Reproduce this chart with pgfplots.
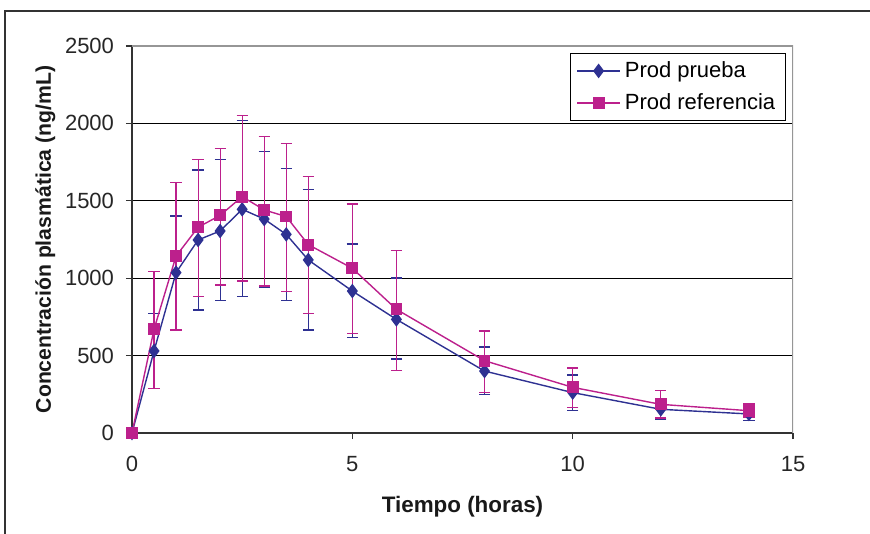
\documentclass[border=0pt]{standalone}
\usepackage{pgfplots}
\pgfplotsset{compat=1.18}
\usepackage{pgfplotstable}
\usepackage{fontspec}
\setmainfont{Liberation Sans}
\definecolor{prueba}{RGB}{46,49,146}
\definecolor{refer}{RGB}{188,32,140}
\definecolor{frameg}{RGB}{150,150,150}
\pgfplotstableread{
t y ep em
0 0 0 0
0.5 530 243 243
1 1036 366 371
1.5 1247 452 452
2 1305 463 450
2.5 1445 573 565
3 1382 438 441
3.5 1283 427 428
4 1118 456 453
5 917 304 301
6 734 267 256
8 400 156 150
10 261 114 114
12 153 69 65
14 123 37 43
}\prueba
\pgfplotstableread{
t y ep em
0 0 0 0
0.5 670 372 381
1 1143 474 478
1.5 1329 439 449
2 1406 431 450
2.5 1527 523 545
3 1441 473 491
3.5 1398 473 485
4 1217 440 447
5 1064 415 422
6 799 381 396
8 467 192 204
10 295 125 131
12 185 88 88
14 144 43 44
}\referencia
\begin{document}
\begin{tikzpicture}
\path[use as bounding box] (0,0) rectangle (435bp,267bp);
\draw[line width=1.1bp, black!80] (2.5bp,-20bp) rectangle (460bp,261.5bp);
\begin{axis}[
  at={(66bp,50.5bp)}, anchor=south west,
  width=330.5bp, height=193.5bp, scale only axis,
  xmin=0, xmax=15, ymin=0, ymax=2500,
  xtick={0,5,10,15}, ytick={0,500,1000,1500,2000,2500},
  axis x line*=bottom, axis y line*=left,
  axis line style={black!80, line width=0.6bp},
  tick align=outside, major tick length=3bp,
  tick style={black!80, line width=0.6bp},
  ymajorgrids, grid style={black, line width=0.45bp},
  /pgf/number format/assume math mode=true,
  /pgf/number format/1000 sep={},
  tick label style={font=\fontsize{11bp}{13bp}\selectfont, text=black!85},
  xticklabel style={yshift=-5bp},
  yticklabel style={xshift=-2.5bp},
  xlabel={\textbf{Tiempo (horas)}},
  ylabel={\textbf{Concentración plasmática (ng/mL)}},
  label style={text=black!90},
  xlabel style={font=\fontsize{11.2bp}{13bp}\selectfont, at={(axis description cs:0.5,-0.191)}, anchor=center},
  ylabel style={font=\fontsize{10.6bp}{13bp}\selectfont, at={(axis description cs:-0.131,0.5)}, anchor=center},
  legend style={at={(axis description cs:0.989,0.982)}, anchor=north east,
    font=\fontsize{11bp}{13bp}\selectfont, draw=black, line width=0.5bp,
    row sep=2.5bp, inner xsep=3bp, inner ysep=2bp, cells={anchor=west}},
  legend image code/.code={\draw[mark repeat=2,mark phase=2] plot coordinates {(0cm,0cm)(0.38cm,0cm)(0.76cm,0cm)};},
  error bars/error bar style={line width=0.6bp},
  error bars/error mark options={rotate=90, mark size=2.8bp, line width=0.6bp},
]
\addplot[color=prueba, line width=0.7bp, mark=diamond*, mark size=3.1bp,
  mark options={solid, fill=prueba},
  error bars/.cd, y dir=both, y explicit]
  table[x=t, y=y, y error plus=ep, y error minus=em] {\prueba};
\addlegendentry{Prod prueba}
\addplot[color=refer, line width=0.7bp, mark=square*, mark size=2.6bp,
  mark options={solid, fill=refer},
  error bars/.cd, y dir=both, y explicit]
  table[x=t, y=y, y error plus=ep, y error minus=em] {\referencia};
\addlegendentry{Prod referencia}
\draw[frameg, line width=0.6bp] (rel axis cs:0,1) -- (rel axis cs:1,1) -- (rel axis cs:1,0);
\end{axis}
\end{tikzpicture}
\end{document}
